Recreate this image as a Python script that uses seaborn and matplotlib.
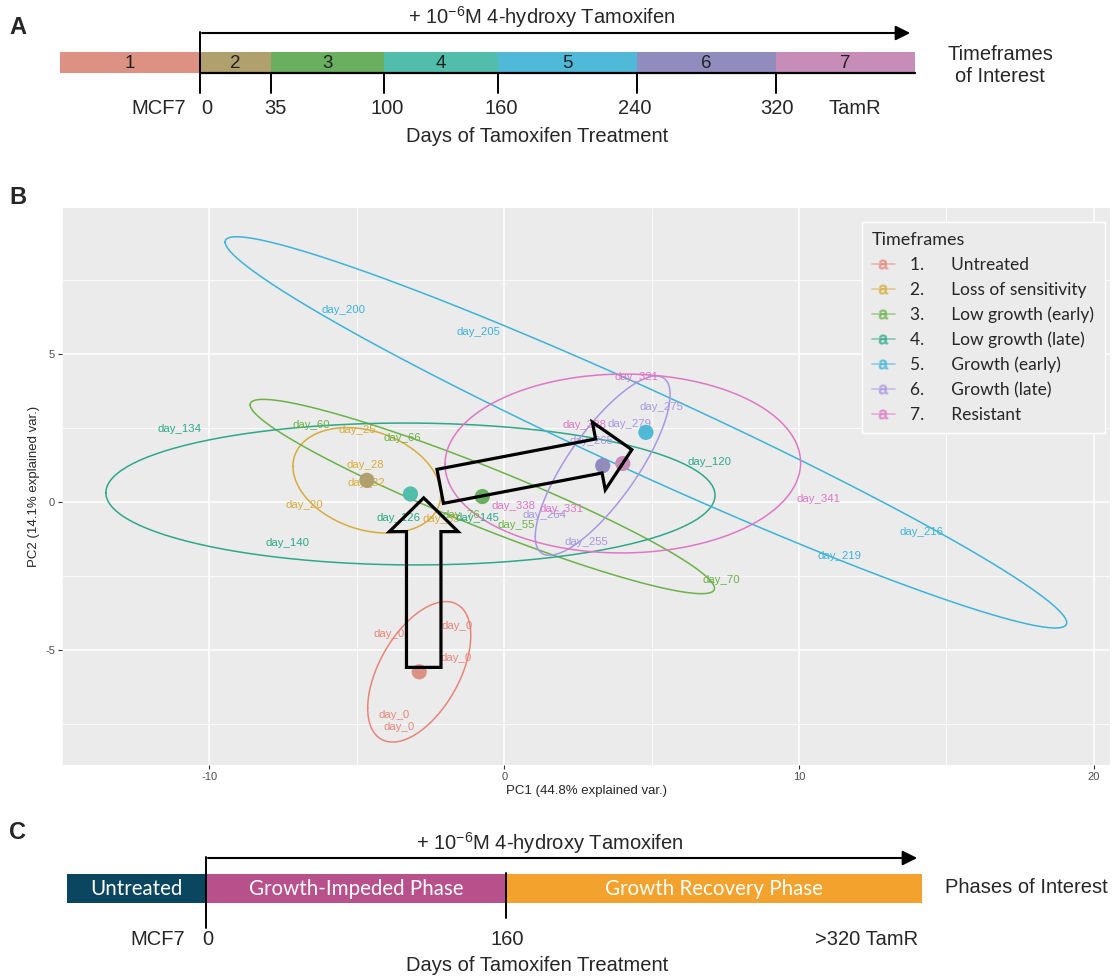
import numpy as np
import pandas as pd
import matplotlib
matplotlib.use("Agg")
import matplotlib.pyplot as plt
from matplotlib.lines import Line2D
from matplotlib.patches import FancyArrow
import seaborn as sns

# ---- panel A: timeframes of interest ----
timeframe_ids = ["1", "2", "3", "4", "5", "6", "7"]
timeframe_colors = ["#DC9182", "#B0A06E", "#69AF5F", "#50BEAA", "#50B9D7", "#918CBE", "#C88CB9"]
timeframe_ticks = ["MCF7", "0", "35", "100", "160", "240", "320", "TamR"]

# ---- panel C: phases of interest ----
phase_names = ["Untreated", "Growth-Impeded Phase", "Growth Recovery Phase"]
phase_colors = ["#0A4660", "#B8508C", "#F4A22E"]
phase_ticks = ["MCF7", "0", "160", ">320 TamR"]

# ---- panel B: PCA of samples ----
group_labels = ["Untreated", "Loss of sensitivity", "Low growth (early)", "Low growth (late)",
                "Growth (early)", "Growth (late)", "Resistant"]
group_colors = ["#E8857B", "#D6AC3C", "#6BB247", "#2EA888", "#3CB3D9", "#A897E2", "#DE77C6"]

sample_names = ["day_0", "day_0", "day_0", "day_0", "day_0",
                "day_20", "day_25", "day_28", "day_32", "day_35",
                "day_55", "day_60", "day_66", "day_70", "day_76",
                "day_120", "day_126", "day_134", "day_140", "day_145",
                "day_200", "day_205", "day_216", "day_219",
                "day_255", "day_264", "day_265", "day_275", "day_279",
                "day_321", "day_328", "day_331", "day_338", "day_341"]
pc1 = [-3.89, -1.60, -1.64, -3.72, -3.56,
       -6.79, -4.98, -4.71, -4.68, -2.13,
       0.39, -6.55, -3.46, 7.38, -1.47,
       6.98, -3.59, -11.03, -7.34, -0.92,
       -5.46, -0.86, 14.16, 11.39,
       2.79, 1.37, 2.95, 5.34, 4.26,
       4.49, 2.71, 1.94, 0.33, 10.65]
pc2 = [-4.46, -4.19, -5.28, -7.22, -7.60,
       -0.11, 2.43, 1.23, 0.65, -0.58,
       -0.78, 2.58, 2.16, -2.64, -0.44,
       1.35, -0.55, 2.46, -1.40, -0.55,
       6.49, 5.75, -1.04, -1.82,
       -1.37, -0.44, 2.07, 3.20, 2.64,
       4.20, 2.58, -0.25, -0.16, 0.09]
sample_group = [1] * 5 + [2] * 5 + [3] * 5 + [4] * 5 + [5] * 4 + [6] * 5 + [7] * 5

TEXT = ["Liberation Sans", "DejaVu Sans"]
SOFT = ["Lato", "DejaVu Sans"]
FS = 14.5


def group_ellipse(x, y, prob=0.68, n=120):
    # same normal-probability ellipse as ggbiplot
    theta = np.linspace(-np.pi, np.pi, n)
    circle = np.column_stack([np.cos(theta), np.sin(theta)])
    sigma = np.cov(x, y)
    ed = np.sqrt(-2 * np.log(1 - prob))
    pts = circle @ np.linalg.cholesky(sigma).T * ed
    return pts + [np.mean(x), np.mean(y)]


def draw_timeline(ax):
    edges = [60, 200, 271, 384, 498, 637, 776, 915]
    lefts = edges[:-1]
    widths = np.diff(edges)
    ax.barh(62.5, widths, left=lefts, height=21, color=timeframe_colors, linewidth=0)
    for lab, l, w in zip(timeframe_ids, lefts, widths):
        ax.text(l + w / 2, 63, lab, ha="center", va="center", fontsize=13.5, color="#222222", family=TEXT)
    ax.plot([200, 915], [73, 73], color="black", lw=1.6)
    ax.plot([200, 200], [32, 93], color="black", lw=1.4)
    for e in edges[2:-1]:
        ax.plot([e, e], [73, 93], color="black", lw=1.4)
    ax.annotate("", xy=(913, 33), xytext=(199.3, 33),
                arrowprops=dict(arrowstyle="-|>", color="black", lw=1.5, mutation_scale=22))
    ax.text(542, 17, r"+ 10$^{-6}$M 4-hydroxy Tamoxifen", ha="center", va="center", fontsize=FS, family=TEXT)
    tick_x = [159, 207, 275, 387, 501, 635, 777, 855]
    for lab, x in zip(timeframe_ticks, tick_x):
        ax.text(x, 108, lab, ha="center", va="center", fontsize=FS, family=TEXT)
    ax.text(537, 136, "Days of Tamoxifen Treatment", ha="center", va="center", fontsize=FS, family=TEXT)
    ax.text(1000, 65, "Timeframes\nof Interest", ha="center", va="center", fontsize=FS,
            family=TEXT, linespacing=1.2)
    ax.text(18, 27, "A", ha="center", va="center", fontsize=17, fontweight="bold", family=TEXT)


def draw_phases(ax):
    edges = [67, 206, 506, 922]
    lefts = edges[:-1]
    widths = np.diff(edges)
    ax.barh(888.5, widths, left=lefts, height=29, color=phase_colors, linewidth=0)
    for lab, l, w in zip(phase_names, lefts, widths):
        ax.text(l + w / 2, 889, lab, ha="center", va="center", fontsize=14.8, color="white", family=SOFT)
    ax.plot([206, 206], [857, 928], color="black", lw=1.4)
    ax.plot([506, 506], [873, 918], color="black", lw=1.4)
    ax.annotate("", xy=(920, 858), xytext=(205.3, 858),
                arrowprops=dict(arrowstyle="-|>", color="black", lw=1.5, mutation_scale=22))
    ax.text(550, 843, r"+ 10$^{-6}$M 4-hydroxy Tamoxifen", ha="center", va="center", fontsize=FS, family=TEXT)
    tick_x = [158, 208, 507, 867]
    for lab, x in zip(phase_ticks, tick_x):
        ax.text(x, 940, lab, ha="center", va="center", fontsize=FS, family=TEXT)
    ax.text(537, 966, "Days of Tamoxifen Treatment", ha="center", va="center", fontsize=FS, family=TEXT)
    ax.text(1026, 888, "Phases of Interest", ha="center", va="center", fontsize=FS, family=TEXT)
    ax.text(18, 833, "C", ha="center", va="center", fontsize=17, fontweight="bold", family=TEXT)


def draw_pca(ax, df):
    for g in range(1, 8):
        sub = df[df["group"] == g]
        ell = group_ellipse(sub["PC1"].values, sub["PC2"].values)
        ax.plot(ell[:, 0], ell[:, 1], color=group_colors[g - 1], lw=1.1, zorder=2)
    for _, row in df.iterrows():
        ax.text(row["PC1"], row["PC2"], row["name"], ha="center", va="center", fontsize=8.2,
                color=group_colors[row["group"] - 1], family=TEXT, zorder=3)

    cent = df.groupby("group", as_index=False)[["PC1", "PC2"]].mean()
    sns.scatterplot(data=cent, x="PC1", y="PC2", hue="group", palette=timeframe_colors,
                    s=120, linewidth=0, legend=False, ax=ax, zorder=4)

    # trajectory arrows
    arrow_kw = dict(width=1.17, head_width=2.33, head_length=1.14, length_includes_head=True,
                    fill=False, ec="black", lw=2.3, zorder=5)
    ax.add_patch(FancyArrow(-2.73, -5.6, 0, 5.73, **arrow_kw))
    ax.add_patch(FancyArrow(-2.17, 0.52, 6.5, 1.24, **arrow_kw))

    ax.set_xlim(-14.98, 20.55)
    ax.set_ylim(-8.9, 9.93)
    ax.set_xticks([-10, 0, 10, 20])
    ax.set_yticks([-5, 0, 5])
    ax.set_xticks([-15, -5, 5, 15], minor=True)
    ax.set_yticks([-7.5, -2.5, 2.5, 7.5], minor=True)
    ax.grid(which="major", color="white", lw=1.1)
    ax.grid(which="minor", color="white", lw=0.55)
    ax.tick_params(which="major", bottom=True, left=True, length=3, width=0.8, color="#333333",
                   labelsize=8, labelcolor="#4D4D4D", pad=2)
    ax.tick_params(which="minor", bottom=False, left=False)
    for s in ax.spines.values():
        s.set_visible(False)
    ax.set_xlabel("PC1 (44.8% explained var.)", fontsize=9.5, labelpad=2)
    ax.set_ylabel("PC2 (14.1% explained var.)", fontsize=9.5, labelpad=4)

    handles = [Line2D([], [], color=c, lw=1.2, marker=r"$\mathrm{a}$", markersize=6.5, alpha=0.55)
               for c in group_colors]
    labels = [f"{i}.      {lab}" for i, lab in enumerate(group_labels, start=1)]
    leg = ax.legend(handles, labels, title="Timeframes", loc="upper right",
                    bbox_to_anchor=(0.995, 0.975), borderaxespad=0, frameon=True, fancybox=False,
                    framealpha=1, edgecolor="white", prop={"family": SOFT, "size": 12.5},
                    title_fontproperties={"family": SOFT, "size": 13}, handlelength=1.3,
                    labelspacing=0.5, borderpad=0.6, handletextpad=0.9)
    leg._legend_box.align = "left"
    leg.set_zorder(6)


sns.set_style("darkgrid", {"axes.facecolor": "#EBEBEB", "grid.color": "white"})
plt.rcParams["font.family"] = TEXT
plt.rcParams["axes.unicode_minus"] = False
plt.rcParams["mathtext.fontset"] = "custom"
plt.rcParams["mathtext.rm"] = "Liberation Sans"
plt.rcParams["mathtext.it"] = "Liberation Sans:italic"
plt.rcParams["mathtext.bf"] = "Liberation Sans:bold"

df = pd.DataFrame({"name": sample_names, "PC1": pc1, "PC2": pc2, "group": sample_group})

fig = plt.figure(figsize=(11.13, 9.77), dpi=100)
fig.patch.set_facecolor("white")

ax_a = fig.add_axes([0, 1 - 160 / 977, 1, 160 / 977])
ax_a.set_xlim(0, 1113)
ax_a.set_ylim(160, 0)
ax_a.axis("off")
draw_timeline(ax_a)

ax_c = fig.add_axes([0, 0, 1, 167 / 977])
ax_c.set_xlim(0, 1113)
ax_c.set_ylim(977, 810)
ax_c.axis("off")
draw_phases(ax_c)

ax_b = fig.add_axes([62 / 1113, 1 - 765 / 977, 1048 / 1113, 557 / 977])
draw_pca(ax_b, df)
fig.text(18 / 1113, 1 - 198 / 977, "B", ha="center", va="center", fontsize=17, fontweight="bold", family=TEXT)

fig.savefig("out.png", dpi=100, facecolor="white")
